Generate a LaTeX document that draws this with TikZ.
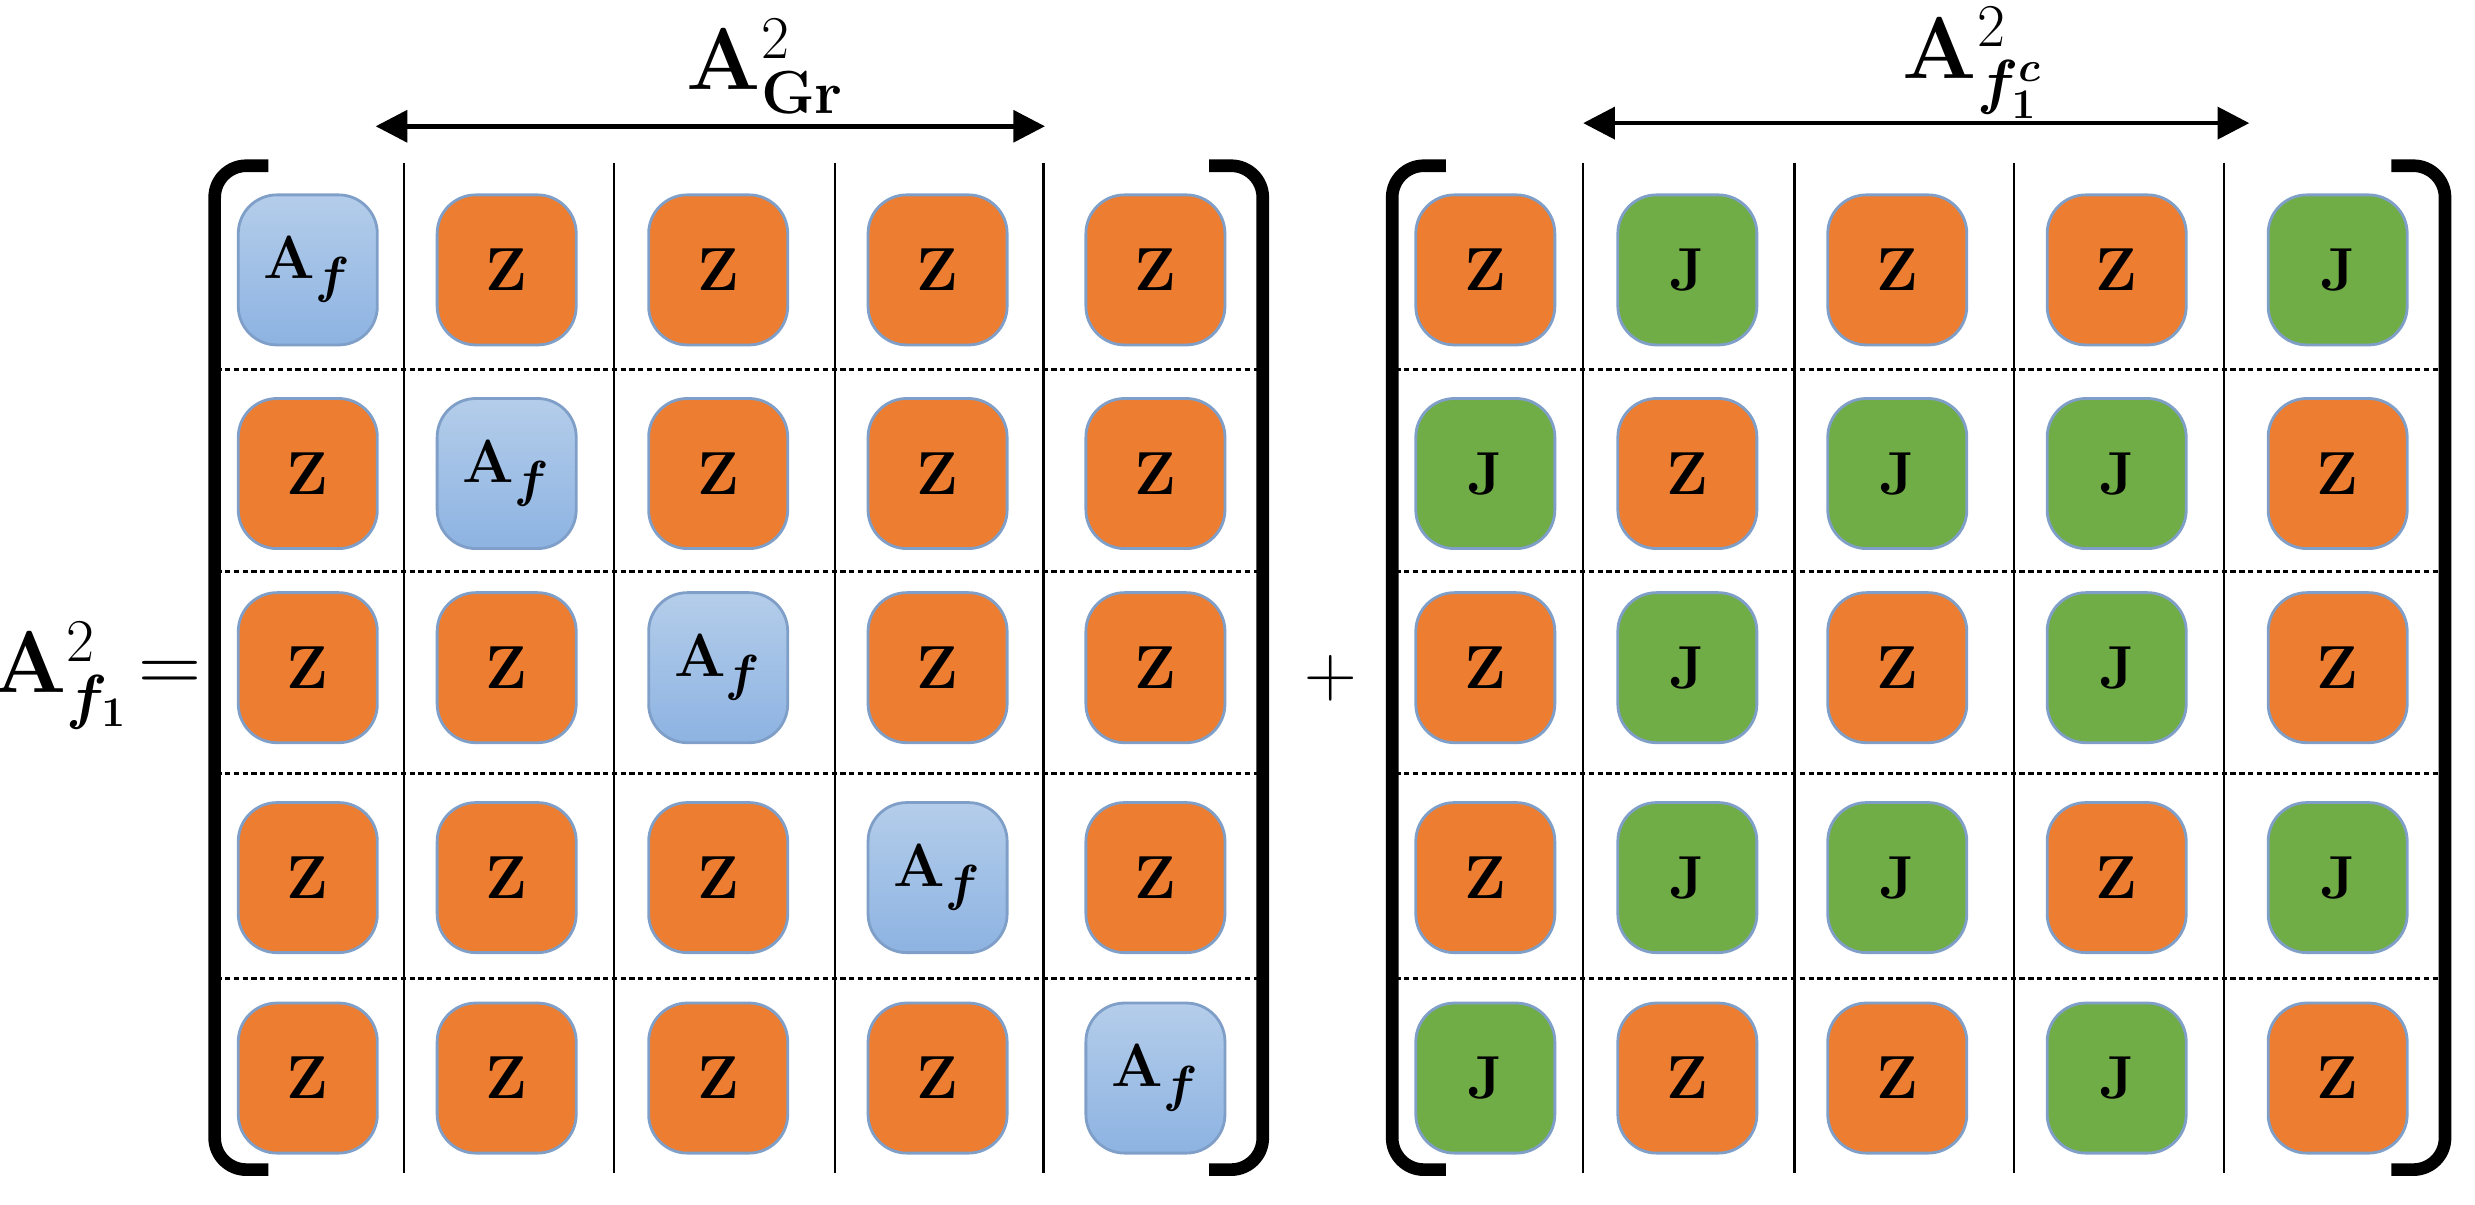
\documentclass[tikz,border=0pt]{standalone}
\usepackage{amsmath,bm}
\usetikzlibrary{arrows.meta}
\definecolor{zor}{HTML}{ED7D31}
\definecolor{jgr}{HTML}{70AD47}
\definecolor{btop}{HTML}{B4CDEA}
\definecolor{bbot}{HTML}{8DB3E2}
\definecolor{edge}{HTML}{7F9FC8}
\tikzset{
 cell/.style={draw=edge,line width=0.8pt,rounded corners=11pt,minimum width=1.39cm,minimum height=1.5cm,inner sep=0pt,font=\fontsize{19}{22}\selectfont},
 Z/.style={cell,fill=zor},
 J/.style={cell,fill=jgr},
 A/.style={cell,top color=btop,bottom color=bbot},
 grid/.style={line width=0.7pt},
 dgrid/.style={line width=0.7pt,dash pattern=on 1.5pt off 1pt},
 brk/.style={line width=3.6pt,rounded corners=9pt},
 dim/.style={line width=1.3pt,{Triangle[length=9pt,width=9pt]}-{Triangle[length=9pt,width=9pt]}},
 big/.style={font=\fontsize{25}{30}\selectfont}
}
\begin{document}
\begin{tikzpicture}[x=0.015784cm,y=-0.015784cm]
\useasboundingbox (0,0) rectangle (1568,763);
% grids
\foreach \x in {256,389,529,661} \draw[grid] (\x,103) -- (\x,743);
\foreach \y in {234,362,490,620} \draw[dgrid] (137,\y) -- (797,\y);
\foreach \x in {1003,1137,1276,1409} \draw[grid] (\x,103) -- (\x,743);
\foreach \y in {234,362,490,620} \draw[dgrid] (884,\y) -- (1547,\y);
% brackets
\draw[brk] (170,105) -- (136,105) -- (136,741) -- (170,741);
\draw[brk] (766,105) -- (800,105) -- (800,741) -- (766,741);
\draw[brk] (916,105) -- (882,105) -- (882,741) -- (916,741);
\draw[brk] (1515,105) -- (1549,105) -- (1549,741) -- (1515,741);
% left matrix
\foreach \y [count=\r] in {171,300,423,556,683}{
 \foreach \x [count=\c] in {195,321,455,594,732}{
  \ifnum\r=\c
   \node[A] (L\r\c) at (\x,\y) {$\mathbf{A}_{\bm f}$};
  \else
   \node[Z] (L\r\c) at (\x,\y) {$\mathbf{Z}$};
  \fi
 }
}
% right matrix
\foreach \row [count=\r] in {{Z,J,Z,Z,J},{J,Z,J,J,Z},{Z,J,Z,J,Z},{Z,J,J,Z,J},{J,Z,Z,J,Z}}{
 \pgfmathsetmacro\yy{{171,300,423,556,683}[\r-1]}
 \foreach \t [count=\c] in \row {
  \pgfmathsetmacro\xx{{941,1069,1202,1341,1481}[\c-1]}
  \node[\t] (R\r\c) at (\xx,\yy) {$\mathbf{\t}$};
 }
}
% dimension arrows
\coordinate (a1) at (238,80); \coordinate (a2) at (662,80);
\draw[dim] (a1) -- (a2);
\node[big] (gr) at (485,42) {$\mathbf{A}^{2}_{\mathbf{Gr}}$};
\coordinate (b1) at (1003,78); \coordinate (b2) at (1425,78);
\draw[dim] (b1) -- (b2);
\node[big] (fc) at (1250,40) {$\mathbf{A}^{2}_{\bm{f}_{\mathbf 1}^{\bm c}}$};
% lhs and plus
\node[big,anchor=east,inner sep=0pt] (lhs) at (128,428) {$\mathbf{A}^{2}_{\bm{f}_{\mathbf 1}}\!=$};
\node[font=\fontsize{22}{26}\selectfont] (plus) at (843,430) {$+$};
\end{tikzpicture}
\end{document}
